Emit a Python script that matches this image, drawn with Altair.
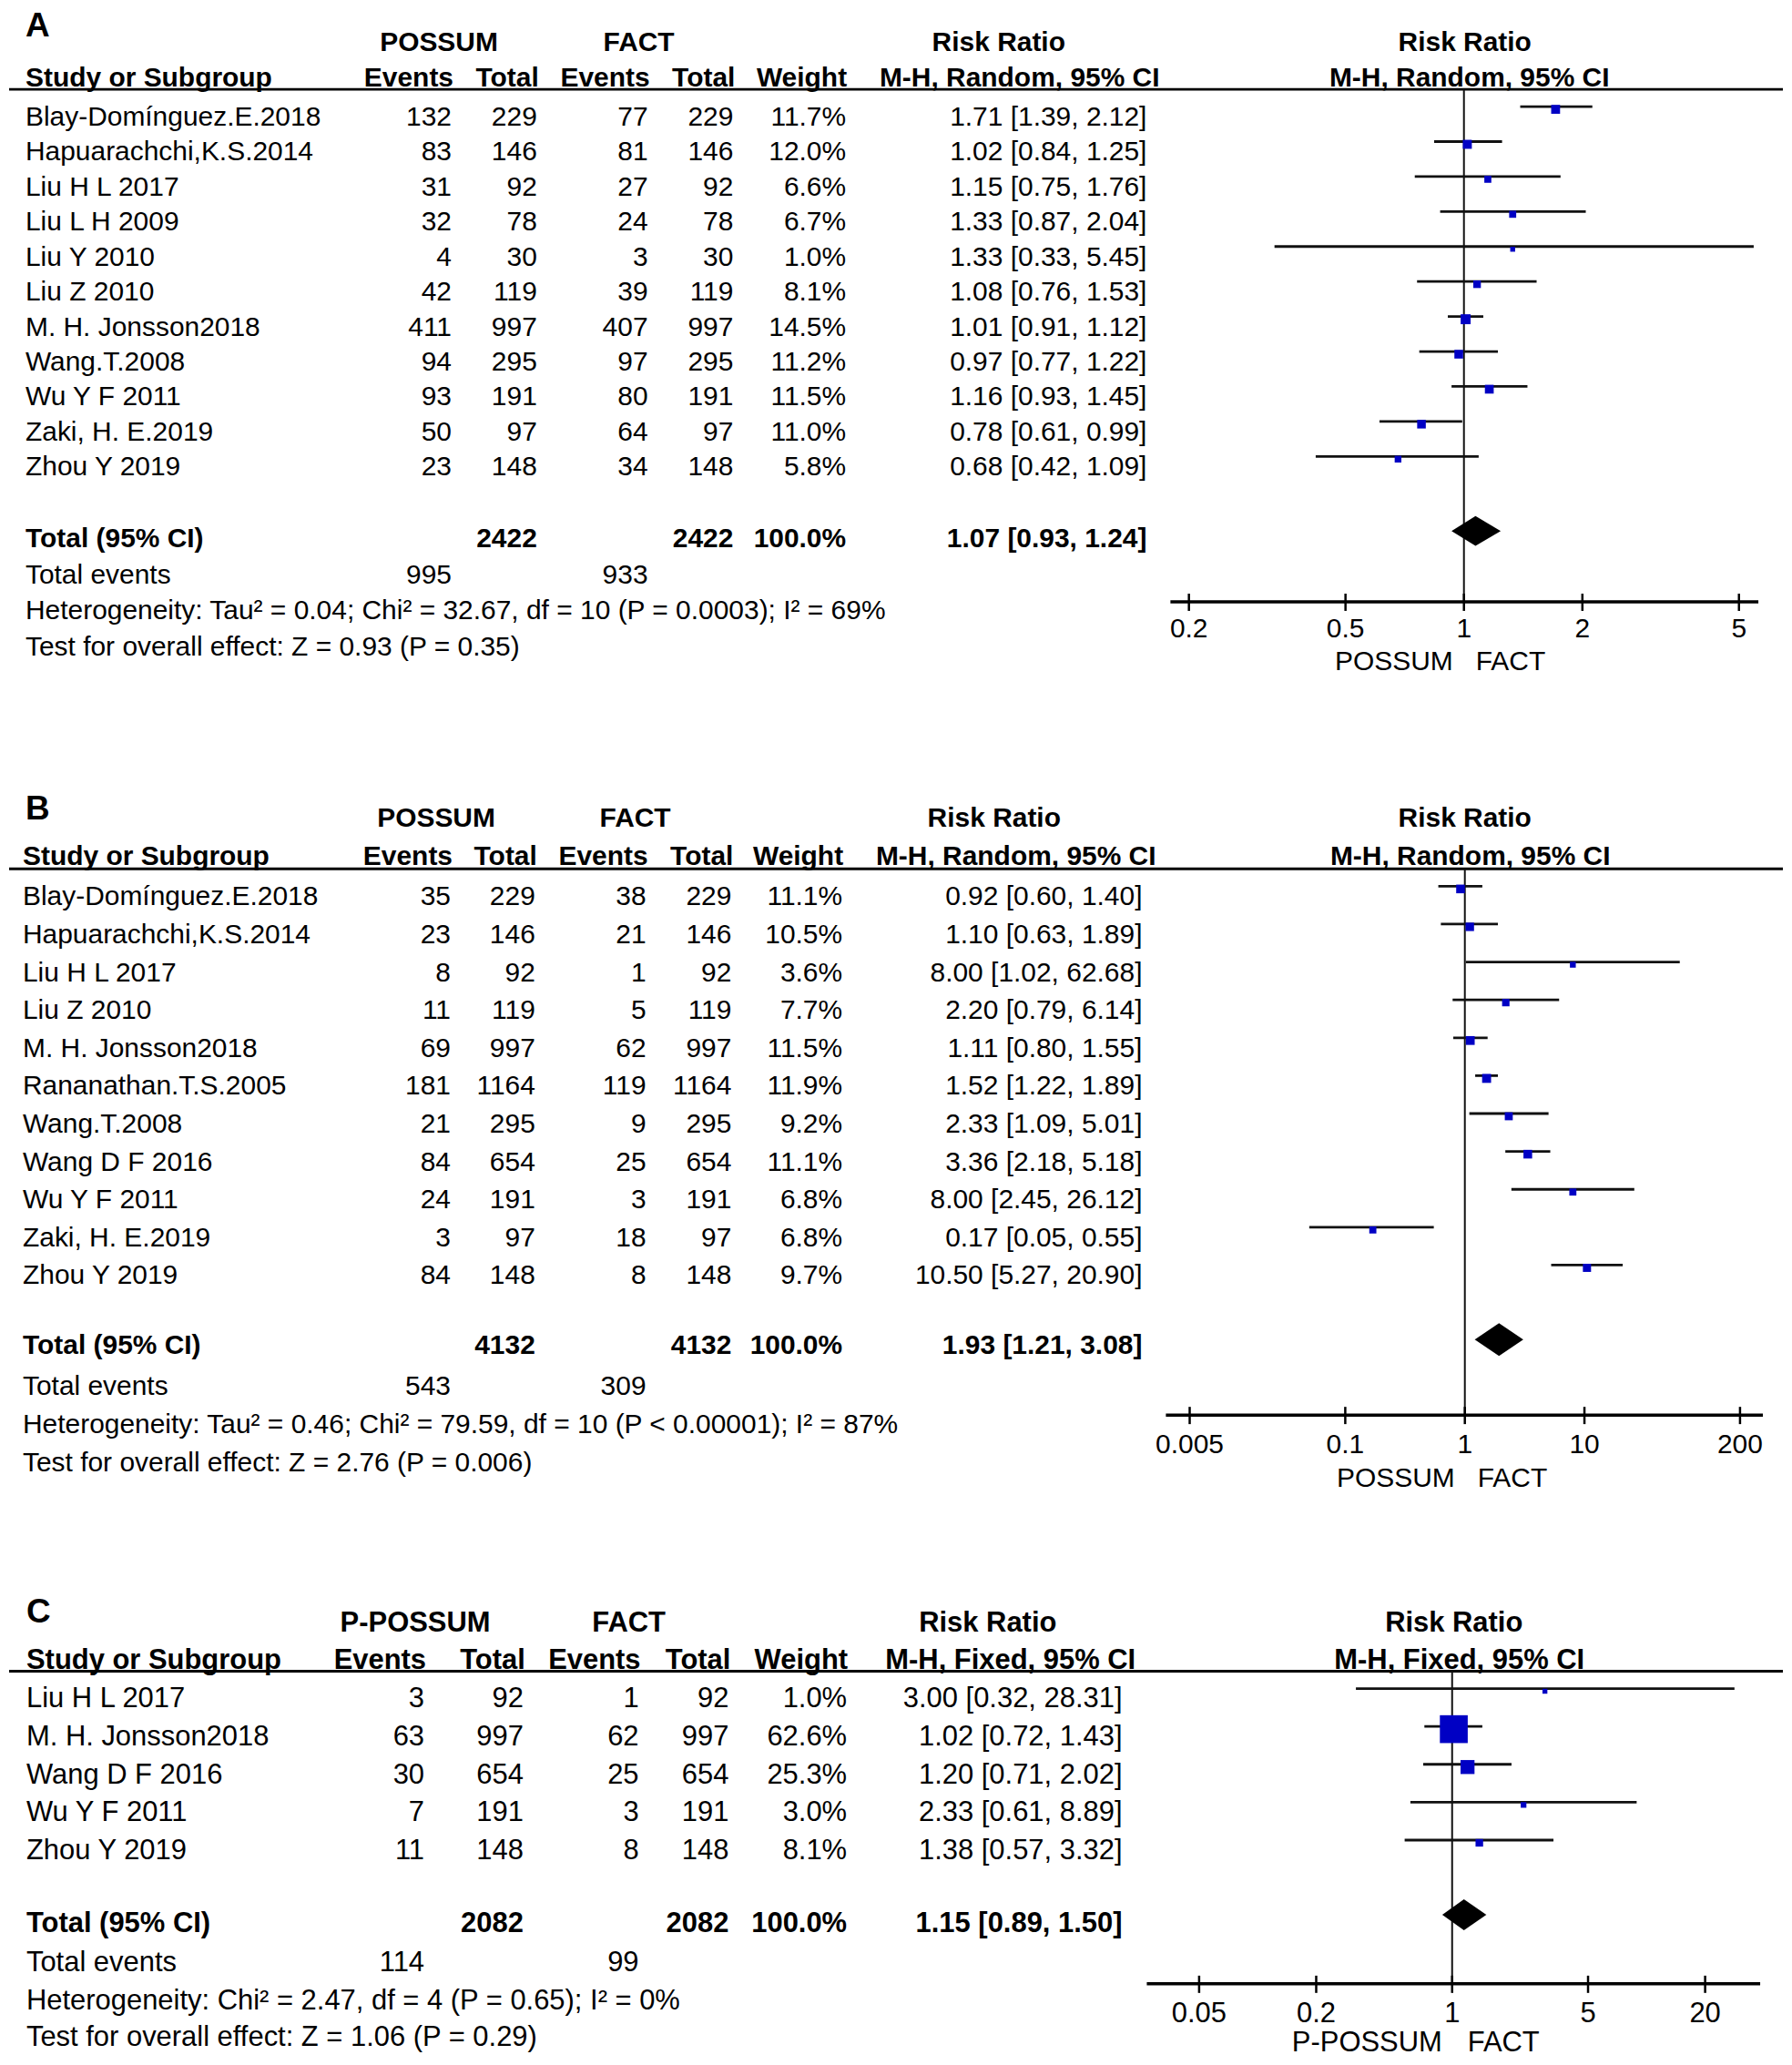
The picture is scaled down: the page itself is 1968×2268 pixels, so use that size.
import math
import altair as alt
import pandas as pd

FONT = "Liberation Sans"
BLUE = "#0000C4"
INK = "#111111"
TOTAL_W = 1952
TEXT_DY = 1

# ---------------- Panel A data ----------------
a_study = ["Blay-Domínguez.E.2018", "Hapuarachchi,K.S.2014", "Liu H L 2017", "Liu L H 2009",
           "Liu Y 2010", "Liu Z 2010", "M. H. Jonsson2018", "Wang.T.2008", "Wu Y F 2011",
           "Zaki, H. E.2019", "Zhou Y 2019"]
a_ev1 = [132, 83, 31, 32, 4, 42, 411, 94, 93, 50, 23]
a_tot1 = [229, 146, 92, 78, 30, 119, 997, 295, 191, 97, 148]
a_ev2 = [77, 81, 27, 24, 3, 39, 407, 97, 80, 64, 34]
a_tot2 = [229, 146, 92, 78, 30, 119, 997, 295, 191, 97, 148]
a_weight = [11.7, 12.0, 6.6, 6.7, 1.0, 8.1, 14.5, 11.2, 11.5, 11.0, 5.8]
a_rr = [1.71, 1.02, 1.15, 1.33, 1.33, 1.08, 1.01, 0.97, 1.16, 0.78, 0.68]
a_lo = [1.39, 0.84, 0.75, 0.87, 0.33, 0.76, 0.91, 0.77, 0.93, 0.61, 0.42]
a_hi = [2.12, 1.25, 1.76, 2.04, 5.45, 1.53, 1.12, 1.22, 1.45, 0.99, 1.09]
a_totals = [2422, 2422]
a_events = [995, 933]
a_total_weight = "100.0%"
a_summary = [1.07, 0.93, 1.24]
a_het = "Heterogeneity: Tau² = 0.04; Chi² = 32.67, df = 10 (P = 0.0003); I² = 69%"
a_test = "Test for overall effect: Z = 0.93 (P = 0.35)"
a_ticks = [0.2, 0.5, 1, 2, 5]
a_tick_labels = ["0.2", "0.5", "1", "2", "5"]

# ---------------- Panel B data ----------------
b_study = ["Blay-Domínguez.E.2018", "Hapuarachchi,K.S.2014", "Liu H L 2017", "Liu Z 2010",
           "M. H. Jonsson2018", "Rananathan.T.S.2005", "Wang.T.2008", "Wang D F 2016",
           "Wu Y F 2011", "Zaki, H. E.2019", "Zhou Y 2019"]
b_ev1 = [35, 23, 8, 11, 69, 181, 21, 84, 24, 3, 84]
b_tot1 = [229, 146, 92, 119, 997, 1164, 295, 654, 191, 97, 148]
b_ev2 = [38, 21, 1, 5, 62, 119, 9, 25, 3, 18, 8]
b_tot2 = [229, 146, 92, 119, 997, 1164, 295, 654, 191, 97, 148]
b_weight = [11.1, 10.5, 3.6, 7.7, 11.5, 11.9, 9.2, 11.1, 6.8, 6.8, 9.7]
b_rr = [0.92, 1.10, 8.00, 2.20, 1.11, 1.52, 2.33, 3.36, 8.00, 0.17, 10.50]
b_lo = [0.60, 0.63, 1.02, 0.79, 0.80, 1.22, 1.09, 2.18, 2.45, 0.05, 5.27]
b_hi = [1.40, 1.89, 62.68, 6.14, 1.55, 1.89, 5.01, 5.18, 26.12, 0.55, 20.90]
b_totals = [4132, 4132]
b_events = [543, 309]
b_total_weight = "100.0%"
b_summary = [1.93, 1.21, 3.08]
b_het = "Heterogeneity: Tau² = 0.46; Chi² = 79.59, df = 10 (P < 0.00001); I² = 87%"
b_test = "Test for overall effect: Z = 2.76 (P = 0.006)"
b_ticks = [0.005, 0.1, 1, 10, 200]
b_tick_labels = ["0.005", "0.1", "1", "10", "200"]

# ---------------- Panel C data ----------------
c_study = ["Liu H L 2017", "M. H. Jonsson2018", "Wang D F 2016", "Wu Y F 2011", "Zhou Y 2019"]
c_ev1 = [3, 63, 30, 7, 11]
c_tot1 = [92, 997, 654, 191, 148]
c_ev2 = [1, 62, 25, 3, 8]
c_tot2 = [92, 997, 654, 191, 148]
c_weight = [1.0, 62.6, 25.3, 3.0, 8.1]
c_rr = [3.00, 1.02, 1.20, 2.33, 1.38]
c_lo = [0.32, 0.72, 0.71, 0.61, 0.57]
c_hi = [28.31, 1.43, 2.02, 8.89, 3.32]
c_totals = [2082, 2082]
c_events = [114, 99]
c_total_weight = "100.0%"
c_summary = [1.15, 0.89, 1.50]
c_het = "Heterogeneity: Chi² = 2.47, df = 4 (P = 0.65); I² = 0%"
c_test = "Test for overall effect: Z = 1.06 (P = 0.29)"
c_ticks = [0.05, 0.2, 1, 5, 20]
c_tick_labels = ["0.05", "0.2", "1", "5", "20"]

# ---------------- layout (reference pixel positions) ----------------
LAY_A = dict(top=8, height=752, fs=30, lfs=37, row0=126, dy=38.5, letter=(26, 9),
             h1=44, h2=83, hline=96, total=590, tev=630, het=669, test=709,
             axis=660, ticklab=689, fav=725, x1=1609, dec=433, axl=1286, axr=1933,
             study=26, ev1=495, tot1=589, ev2=711, tot2=805, w=929, rr=1260,
             g1=481, g2=701, rrh1=1097, rrh2=1120, ph1=1610, ph2=1615,
             dmo=-8, dmh=16.5, fav_l=-12, fav_r=13)
LAY_B = dict(top=760, height=930, fs=30, lfs=37, row0=984, dy=41.7, letter=(26, 871),
             h1=898, h2=940, hline=954, total=1478, tev=1523, het=1565, test=1607,
             axis=1555, ticklab=1587, fav=1624, x1=1610, dec=131.6, axl=1281, axr=1938,
             study=23, ev1=494, tot1=587, ev2=709, tot2=803, w=925, rr=1255,
             g1=478, g2=697, rrh1=1092, rrh2=1116, ph1=1610, ph2=1616,
             dmo=-6, dmh=18, fav_l=-11, fav_r=14)
LAY_C = dict(top=1690, height=570, fs=31, lfs=37, row0=1867, dy=41.7, letter=(27, 1754),
             h1=1783, h2=1824, hline=1837, total=2114, tev=2157, het=2199, test=2239,
             axis=2181, ticklab=2213, fav=2245, x1=1596, dec=214, axl=1260, axr=1935,
             study=27, ev1=465, tot1=574, ev2=701, tot2=800, w=930, rr=1233,
             g1=455, g2=690, rrh1=1085, rrh2=1110, ph1=1598, ph2=1604,
             dmo=-9, dmh=17, fav_l=-11, fav_r=17)

ONE = pd.DataFrame({"k": [0]})


def build(key, study, ev1, tot1, ev2, tot2, weight, rr, lo, hi, totals, events, total_weight,
          summary, het, test, ticks, tick_labels, group1, group2, method, L):
    top, fs, dy, row0 = L["top"], L["fs"], L["dy"], L["row0"]

    def ly(y):
        return y - top

    def lx(x):
        return x - 8

    ys = alt.Scale(domain=[0, 10], range=[ly(row0), ly(row0) + 10 * dy], zero=False, nice=False)

    def xpix(t):
        return L["x1"] + L["dec"] * math.log10(t)

    t0, t1 = ticks[0], ticks[-1]
    xs = alt.Scale(type="log", domain=[t0, t1], range=[lx(xpix(t0)), lx(xpix(t1))], nice=False)

    n = len(study)
    df = pd.DataFrame({
        "row": list(range(n)),
        "study": study,
        "ev1": [str(v) for v in ev1],
        "tot1": [str(v) for v in tot1],
        "ev2": [str(v) for v in ev2],
        "tot2": [str(v) for v in tot2],
        "wt": [f"{v:.1f}%" for v in weight],
        "rrt": [f"{a:.2f} [{b:.2f}, {c:.2f}]" for a, b, c in zip(rr, lo, hi)],
        "weight": weight, "rr": rr, "lo": lo, "hi": hi,
    })

    def col(field, x, align):
        return alt.Chart(df).mark_text(align=align, baseline="middle", font=FONT, fontSize=fs,
                                       dy=TEXT_DY, color="black").encode(
            x=alt.value(lx(x)), y=alt.Y("row:Q", scale=ys, axis=None), text=alt.Text(f"{field}:N"))

    def st(text, x, y, align, bold=False, size=None, base="middle", ddy=TEXT_DY):
        return alt.Chart(ONE).mark_text(text=text, align=align, baseline=base, font=FONT,
                                        fontSize=size or fs, fontWeight="bold" if bold else "normal",
                                        dy=ddy, color="black").encode(
            x=alt.value(lx(x)), y=alt.value(ly(y)))

    layers = []
    # headers
    layers += [
        st(key, L["letter"][0], L["letter"][1], "left", True, L["lfs"], "top", 0),
        st(group1, L["g1"], L["h1"], "center", True),
        st(group2, L["g2"], L["h1"], "center", True),
        st("Risk Ratio", L["rrh1"], L["h1"], "center", True),
        st("Risk Ratio", L["ph1"], L["h1"], "center", True),
        st("Study or Subgroup", L["study"], L["h2"], "left", True),
        st("Events", L["ev1"] + 2, L["h2"], "right", True),
        st("Total", L["tot1"] + 2, L["h2"], "right", True),
        st("Events", L["ev2"] + 2, L["h2"], "right", True),
        st("Total", L["tot2"] + 2, L["h2"], "right", True),
        st("Weight", L["w"] + 1, L["h2"], "right", True),
        st(method, L["rrh2"], L["h2"], "center", True),
        st(method, L["ph2"], L["h2"], "center", True),
        alt.Chart(ONE).mark_rule(strokeWidth=3, color="black").encode(
            x=alt.value(0), x2=alt.value(TOTAL_W), y=alt.value(ly(L["hline"]))),
    ]
    # study rows
    layers += [
        col("study", L["study"], "left"),
        col("ev1", L["ev1"], "right"),
        col("tot1", L["tot1"], "right"),
        col("ev2", L["ev2"], "right"),
        col("tot2", L["tot2"], "right"),
        col("wt", L["w"], "right"),
        col("rrt", L["rr"], "right"),
    ]
    # summary rows
    s, sl, sh = summary
    layers += [
        st("Total (95% CI)", L["study"], L["total"], "left", True),
        st(str(totals[0]), L["tot1"], L["total"], "right", True),
        st(str(totals[1]), L["tot2"], L["total"], "right", True),
        st(total_weight, L["w"], L["total"], "right", True),
        st(f"{s:.2f} [{sl:.2f}, {sh:.2f}]", L["rr"], L["total"], "right", True),
        st("Total events", L["study"], L["tev"], "left"),
        st(str(events[0]), L["ev1"], L["tev"], "right"),
        st(str(events[1]), L["ev2"], L["tev"], "right"),
        st(het, L["study"], L["het"], "left"),
        st(test, L["study"], L["test"], "left"),
    ]

    # forest plot
    one = pd.DataFrame({"v": [1.0]})
    layers.append(alt.Chart(one).mark_rule(strokeWidth=2, color=INK).encode(
        x=alt.X("v:Q", scale=xs, axis=None),
        y=alt.value(ly(L["hline"])), y2=alt.value(ly(L["axis"]))))
    layers.append(alt.Chart(df).transform_calculate(yc=f"datum.row - {11 / dy}").mark_rule(
        strokeWidth=2.8, color=INK).encode(
        x=alt.X("lo:Q", scale=xs, axis=None), x2="hi:Q",
        y=alt.Y("yc:Q", scale=ys, axis=None)))
    layers.append(alt.Chart(df).transform_calculate(
        yc=f"datum.row - {8 / dy}", sz="pow(5 + 0.41 * datum.weight, 2)").mark_square(
        color=BLUE, opacity=1).encode(
        x=alt.X("rr:Q", scale=xs, axis=None),
        y=alt.Y("yc:Q", scale=ys, axis=None),
        size=alt.Size("sz:Q", scale=None)))
    rt = (L["total"] + L["dmo"] - row0) / dy
    hh = L["dmh"] / dy
    dm = pd.DataFrame({"x": [sl, s, sh], "yt": [rt, rt - hh, rt], "yb": [rt, rt + hh, rt]})
    layers.append(alt.Chart(dm).mark_area(color="black", orient="vertical", opacity=1).encode(
        x=alt.X("x:Q", scale=xs, axis=None),
        y=alt.Y("yt:Q", scale=ys, axis=None), y2="yb:Q"))
    # axis
    layers.append(alt.Chart(ONE).mark_rule(strokeWidth=3.5, color="black").encode(
        x=alt.value(lx(L["axl"])), x2=alt.value(lx(L["axr"])), y=alt.value(ly(L["axis"]))))
    tdf = pd.DataFrame({"t": ticks, "lab": tick_labels})
    layers.append(alt.Chart(tdf).mark_rule(strokeWidth=2.5, color="black").encode(
        x=alt.X("t:Q", scale=xs, axis=None),
        y=alt.value(ly(L["axis"]) - 9), y2=alt.value(ly(L["axis"]) + 10)))
    layers.append(alt.Chart(tdf).mark_text(align="center", baseline="middle", font=FONT,
                                           fontSize=fs, dy=TEXT_DY, color="black").encode(
        x=alt.X("t:Q", scale=xs, axis=None), y=alt.value(ly(L["ticklab"])), text="lab:N"))
    layers.append(alt.Chart(one).mark_text(text=group1, align="right", dx=L["fav_l"], dy=TEXT_DY,
                                           baseline="middle", font=FONT, fontSize=fs,
                                           color="black").encode(
        x=alt.X("v:Q", scale=xs, axis=None), y=alt.value(ly(L["fav"]))))
    layers.append(alt.Chart(one).mark_text(text=group2, align="left", dx=L["fav_r"], dy=TEXT_DY,
                                           baseline="middle", font=FONT, fontSize=fs,
                                           color="black").encode(
        x=alt.X("v:Q", scale=xs, axis=None), y=alt.value(ly(L["fav"]))))

    return alt.layer(*layers).properties(width=TOTAL_W, height=L["height"])


pa = build("A", a_study, a_ev1, a_tot1, a_ev2, a_tot2, a_weight, a_rr, a_lo, a_hi, a_totals,
           a_events, a_total_weight, a_summary, a_het, a_test, a_ticks, a_tick_labels,
           "POSSUM", "FACT", "M-H, Random, 95% CI", LAY_A)
pb = build("B", b_study, b_ev1, b_tot1, b_ev2, b_tot2, b_weight, b_rr, b_lo, b_hi, b_totals,
           b_events, b_total_weight, b_summary, b_het, b_test, b_ticks, b_tick_labels,
           "POSSUM", "FACT", "M-H, Random, 95% CI", LAY_B)
pc = build("C", c_study, c_ev1, c_tot1, c_ev2, c_tot2, c_weight, c_rr, c_lo, c_hi, c_totals,
           c_events, c_total_weight, c_summary, c_het, c_test, c_ticks, c_tick_labels,
           "P-POSSUM", "FACT", "M-H, Fixed, 95% CI", LAY_C)

chart = alt.vconcat(pa, pb, pc, spacing=0, bounds="flush").properties(
    padding=0, background="white").configure_view(stroke=None)

chart.save("out.html", embed_options={"renderer": "svg", "actions": False})
